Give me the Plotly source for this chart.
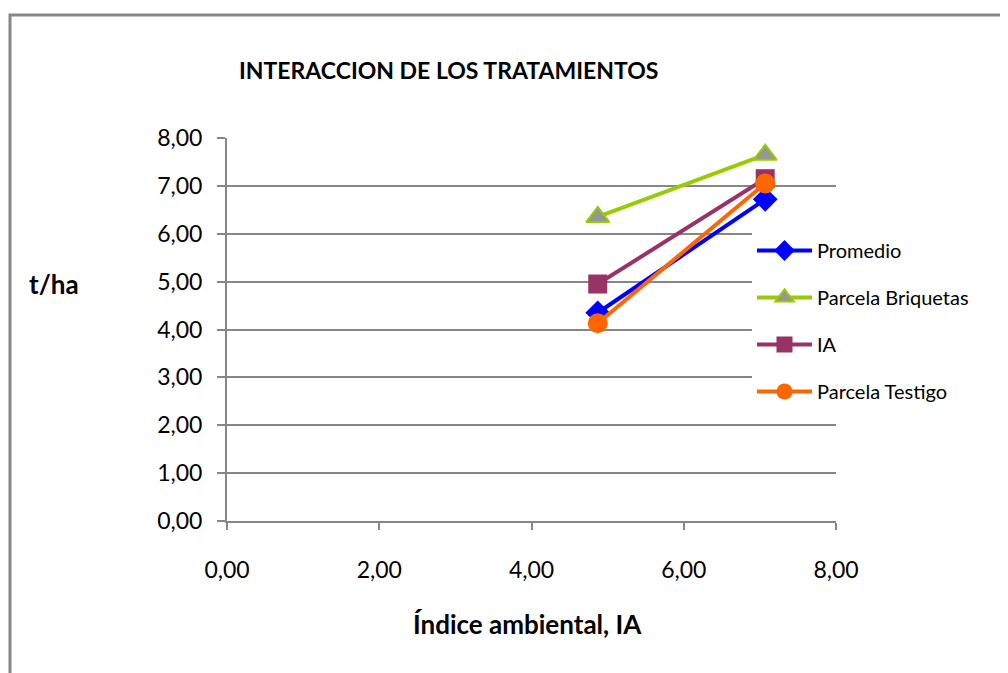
import plotly.graph_objects as go

x_vals = [4.87, 7.07]
promedio = [4.35, 6.72]
briquetas = [6.35, 7.65]
ia = [4.95, 7.15]
testigo = [4.13, 7.05]

x_ticks = [0, 2, 4, 6, 8]
y_ticks = [0, 1, 2, 3, 4, 5, 6, 7, 8]

FONT = "Lato, Noto Sans, sans-serif"

# page offset compensation (browser body margin)
OX, OY = 8, 8
L, R, T, B = 227 - OX, 1008 - 836 + OX, 138 - OY, 673 - 521 + OY
PW, PH = 836 - 227, 521 - 138

def px(xp):
    return (xp - 227) / PW

def py(yp):
    return (521 - yp) / PH

fig = go.Figure()
series = [
    ("Promedio", promedio, "#0000FF", dict(symbol="diamond", size=19, color="#0000FF")),
    ("Parcela Briquetas", briquetas, "#99CC00", dict(symbol="triangle-up", size=20, color="#969696", line=dict(color="#99CC00", width=2))),
    ("IA", ia, "#993366", dict(symbol="square", size=19, color="#993366")),
    ("Parcela Testigo", testigo, "#FF6600", dict(symbol="circle", size=20, color="#FF6600")),
]
for i, (name, ys, col, mk) in enumerate(series):
    fig.add_trace(go.Scatter(x=x_vals, y=ys, name=name, mode="lines+markers",
                             line=dict(color=col, width=4), marker=mk,
                             legendgroup=f"g{i}"))

fig.update_layout(
    width=1008, height=673,
    margin=dict(l=L, r=R, t=T, b=B),
    paper_bgcolor="white", plot_bgcolor="white",
    separators=",.",
    font=dict(family=FONT, size=20, color="black"),
    title=dict(text="<b>INTERACCION DE LOS TRATAMIENTOS</b>", x=(239 - OX) / 1008, xanchor="left",
               y=1 - (71 - OY) / 673, yanchor="middle", font=dict(size=23, family=FONT)),
    showlegend=True,
    legend=dict(x=px(752), y=py(231), xanchor="left", yanchor="top",
                bgcolor="white", font=dict(size=20, family=FONT),
                traceorder="grouped", tracegroupgap=18, itemwidth=55),
    xaxis=dict(range=[0, 8], tickvals=x_ticks, tickformat=".2f", showgrid=False,
               showline=True, linecolor="#868686", linewidth=2, ticks="outside",
               ticklen=7, tickcolor="#868686", tickwidth=2, zeroline=False,
               ticklabelstandoff=20, tickfont=dict(size=23, family=FONT),
               title=None),
    yaxis=dict(range=[0, 8], tickvals=y_ticks, tickformat=".2f", showgrid=True,
               gridcolor="#868686", gridwidth=2, showline=True, linecolor="#868686",
               linewidth=2, ticks="outside", ticklen=8, tickcolor="#868686", tickwidth=2,
               zeroline=False, ticklabelstandoff=10, tickfont=dict(size=23, family=FONT),
               title=None),
    annotations=[
        dict(text="<b>t/ha</b>", xref="paper", yref="paper",
             x=px(27), y=py(284), xanchor="left", yanchor="middle",
             showarrow=False, font=dict(size=26, family=FONT)),
        dict(text="<b>Índice ambiental, IA</b>", xref="paper", yref="paper",
             x=px(527), y=py(624), xanchor="center", yanchor="middle",
             showarrow=False, font=dict(size=26, family=FONT)),
    ],
    shapes=[dict(type="rect", xref="paper", yref="paper",
                 x0=px(10), x1=2, y0=-1, y1=py(15),
                 line=dict(color="#888888", width=3), layer="below")],
)

fig.write_html("out.html")
